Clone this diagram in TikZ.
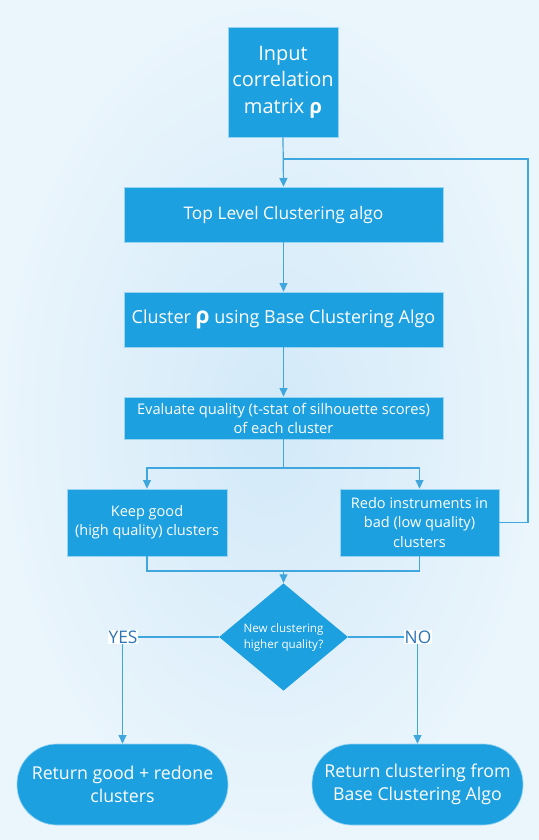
\documentclass[tikz,border=0pt]{standalone}
\usepackage{fontspec}
\setmainfont{Open Sans}
\usetikzlibrary{shapes.geometric,arrows.meta}

\definecolor{boxblue}{RGB}{29,160,224}
\definecolor{lineblue}{RGB}{64,166,222}
\definecolor{bginner}{RGB}{210,233,248}
\definecolor{bgouter}{RGB}{234,245,252}
\definecolor{yesno}{RGB}{46,117,182}

\begin{document}
\begin{tikzpicture}[x=0.75pt,y=-0.75pt,
	box/.style={fill=boxblue, draw=white!55!boxblue, line width=0.5pt, text=white, align=center, inner sep=0pt},
	line/.style={draw=lineblue, line width=0.9pt},
	arr/.style={line, -{Triangle[length=6.5pt,width=6pt]}},
	tag/.style={fill=white, text=yesno, inner sep=0.8pt, font=\fontsize{13}{15}\selectfont}]

\useasboundingbox (0,0) rectangle (539,840);
\shade[inner color=bginner, outer color=bgouter] (0,0) rectangle (539,840);

%boxes
\node[box, minimum width=82.5pt, minimum height=82.5pt, font=\fontsize{15}{20}\selectfont] (input) at (283,82) {Input\\correlation\\matrix \textbf{ρ}};
\node[box, minimum width=239.25pt, minimum height=41.25pt, font=\fontsize{13}{15}\selectfont] (top) at (283.5,214.5) {Top Level Clustering algo};
\node[box, minimum width=239.25pt, minimum height=41.25pt, font=\fontsize{13.5}{16}\selectfont] (cluster) at (283.5,319.5) {Cluster {\fontsize{17}{16}\selectfont\textbf{ρ}} using Base Clustering Algo};
\node[box, minimum width=239.25pt, minimum height=31.5pt, font=\fontsize{11}{14.3}\selectfont] (eval) at (283.5,418) {Evaluate quality (t-stat of silhouette scores)\\of each cluster};
\node[box, minimum width=120pt, minimum height=50.25pt, font=\fontsize{10.9}{14.3}\selectfont] (keep) at (147,522.5) {Keep good\\(high quality) clusters};
\node[box, minimum width=119.25pt, minimum height=50.25pt, font=\fontsize{10.9}{14.3}\selectfont] (redo) at (419.5,522.5) {Redo instruments in\\bad (low quality)\\clusters};
\node[box, diamond, draw=none, minimum width=96.75pt, minimum height=75pt, font=\fontsize{8.7}{12}\selectfont] (dec) at (283.5,637) {New clustering\\higher quality?};
\node[box, rounded corners=30pt, minimum width=158.25pt, minimum height=60.75pt, font=\fontsize{13.3}{17.3}\selectfont] (retL) at (122.5,784.5) {Return good + redone\\clusters};
\node[box, rounded corners=30pt, minimum width=158.25pt, minimum height=60.75pt, font=\fontsize{13.3}{17.3}\selectfont] (retR) at (417.5,784.5) {Return clustering from\\Base Clustering Algo};

\coordinate (join) at (283.5,159);
\coordinate (loop) at (528,159);
\coordinate (split) at (283.5,468);
\coordinate (merge) at (283.5,571);

%main line
\draw[arr] (input.south) -- (top.north);
\draw[arr] (top.south) -- (cluster.north);
\draw[arr] (cluster.south) -- (eval.north);

%split
\draw[line] (eval.south) -- (split);
\draw[arr] (split) -| (keep.north);
\draw[arr] (split) -| (redo.north);

%redo loop
\draw[line] (redo.east) -| (loop) -- (join);

%merge
\draw[line] (keep.south) |- (merge);
\draw[line] (redo.south) |- (merge);
\draw[arr] (merge) -- (dec.north);

%yes / no
\draw[arr] (dec.west) -| (retL.north);
\draw[arr] (dec.east) -| (retR.north);
\node[tag] (yes) at (123,637) {YES};
\node[tag] (no) at (418,637) {NO};

\end{tikzpicture}
\end{document}
